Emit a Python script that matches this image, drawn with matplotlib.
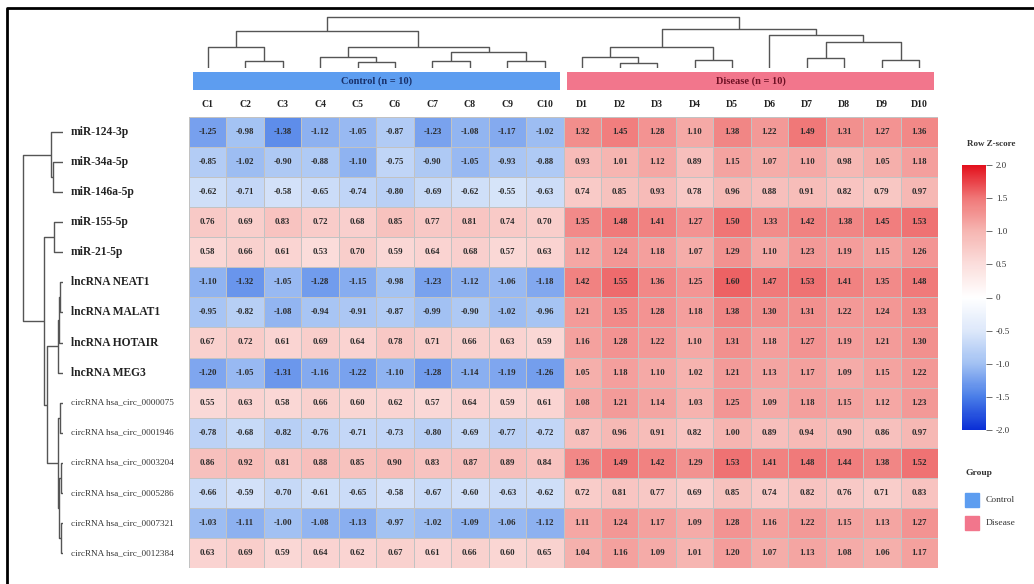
import numpy as np
import matplotlib
matplotlib.use("Agg")
import matplotlib.pyplot as plt
from matplotlib.colors import LinearSegmentedColormap
from matplotlib.patches import Rectangle
from matplotlib.lines import Line2D
from matplotlib.transforms import blended_transform_factory

plt.rcParams['font.family'] = ['Liberation Serif', 'DejaVu Serif']

# ---------------- data ----------------
row_labels = ["miR-124-3p", "miR-34a-5p", "miR-146a-5p", "miR-155-5p", "miR-21-5p",
              "lncRNA NEAT1", "lncRNA MALAT1", "lncRNA HOTAIR", "lncRNA MEG3",
              "circRNA hsa_circ_0000075", "circRNA hsa_circ_0001946", "circRNA hsa_circ_0003204",
              "circRNA hsa_circ_0005286", "circRNA hsa_circ_0007321", "circRNA hsa_circ_0012384"]
col_labels = ["C1", "C2", "C3", "C4", "C5", "C6", "C7", "C8", "C9", "C10",
              "D1", "D2", "D3", "D4", "D5", "D6", "D7", "D8", "D9", "D10"]
group_names = ["Control (n = 10)", "Disease (n = 10)"]
group_legend = ["Control", "Disease"]
group_sizes = [10, 10]

control_values = [
    [-1.25, -0.98, -1.38, -1.12, -1.05, -0.87, -1.23, -1.08, -1.17, -1.02],
    [-0.85, -1.02, -0.90, -0.88, -1.10, -0.75, -0.90, -1.05, -0.93, -0.88],
    [-0.62, -0.71, -0.58, -0.65, -0.74, -0.80, -0.69, -0.62, -0.55, -0.63],
    [0.76, 0.69, 0.83, 0.72, 0.68, 0.85, 0.77, 0.81, 0.74, 0.70],
    [0.58, 0.66, 0.61, 0.53, 0.70, 0.59, 0.64, 0.68, 0.57, 0.63],
    [-1.10, -1.32, -1.05, -1.28, -1.15, -0.98, -1.23, -1.12, -1.06, -1.18],
    [-0.95, -0.82, -1.08, -0.94, -0.91, -0.87, -0.99, -0.90, -1.02, -0.96],
    [0.67, 0.72, 0.61, 0.69, 0.64, 0.78, 0.71, 0.66, 0.63, 0.59],
    [-1.20, -1.05, -1.31, -1.16, -1.22, -1.10, -1.28, -1.14, -1.19, -1.26],
    [0.55, 0.63, 0.58, 0.66, 0.60, 0.62, 0.57, 0.64, 0.59, 0.61],
    [-0.78, -0.68, -0.82, -0.76, -0.71, -0.73, -0.80, -0.69, -0.77, -0.72],
    [0.86, 0.92, 0.81, 0.88, 0.85, 0.90, 0.83, 0.87, 0.89, 0.84],
    [-0.66, -0.59, -0.70, -0.61, -0.65, -0.58, -0.67, -0.60, -0.63, -0.62],
    [-1.03, -1.11, -1.00, -1.08, -1.13, -0.97, -1.02, -1.09, -1.06, -1.12],
    [0.63, 0.69, 0.59, 0.64, 0.62, 0.67, 0.61, 0.66, 0.60, 0.65],
]
disease_values = [
    [1.32, 1.45, 1.28, 1.10, 1.38, 1.22, 1.49, 1.31, 1.27, 1.36],
    [0.93, 1.01, 1.12, 0.89, 1.15, 1.07, 1.10, 0.98, 1.05, 1.18],
    [0.74, 0.85, 0.93, 0.78, 0.96, 0.88, 0.91, 0.82, 0.79, 0.97],
    [1.35, 1.48, 1.41, 1.27, 1.50, 1.33, 1.42, 1.38, 1.45, 1.53],
    [1.12, 1.24, 1.18, 1.07, 1.29, 1.10, 1.23, 1.19, 1.15, 1.26],
    [1.42, 1.55, 1.36, 1.25, 1.60, 1.47, 1.53, 1.41, 1.35, 1.48],
    [1.21, 1.35, 1.28, 1.18, 1.38, 1.30, 1.31, 1.22, 1.24, 1.33],
    [1.16, 1.28, 1.22, 1.10, 1.31, 1.18, 1.27, 1.19, 1.21, 1.30],
    [1.05, 1.18, 1.10, 1.02, 1.21, 1.13, 1.17, 1.09, 1.15, 1.22],
    [1.08, 1.21, 1.14, 1.03, 1.25, 1.09, 1.18, 1.15, 1.12, 1.23],
    [0.87, 0.96, 0.91, 0.82, 1.00, 0.89, 0.94, 0.90, 0.86, 0.97],
    [1.36, 1.49, 1.42, 1.29, 1.53, 1.41, 1.48, 1.44, 1.38, 1.52],
    [0.72, 0.81, 0.77, 0.69, 0.85, 0.74, 0.82, 0.76, 0.71, 0.83],
    [1.11, 1.24, 1.17, 1.09, 1.28, 1.16, 1.22, 1.15, 1.13, 1.27],
    [1.04, 1.16, 1.09, 1.01, 1.20, 1.07, 1.13, 1.08, 1.06, 1.17],
]

# dendrogram merges: (child_a, child_b, height); leaf ids < n, clusters n+k
col_merges = [(1, 2, 7), (0, 20, 21), (4, 5, 6), (3, 22, 11), (6, 7, 7), (8, 9, 7),
              (24, 25, 16), (23, 26, 21), (21, 27, 37),
              (11, 12, 5), (10, 29, 11), (13, 14, 8), (30, 31, 21), (16, 17, 10),
              (18, 19, 8), (33, 34, 26), (15, 35, 33), (32, 36, 39), (28, 37, 51)]
row_merges = [(1, 2, 10), (0, 15, 12), (3, 4, 9), (5, 6, 3), (18, 7, 4), (19, 8, 5),
              (9, 10, 3), (11, 12, 2), (13, 14, 2), (22, 23, 4), (21, 24, 5),
              (20, 25, 16), (17, 26, 19), (16, 27, 39)]

ticks_cb = [2.0, 1.5, 1.0, 0.5, 0, -0.5, -1.0, -1.5, -2.0]

# ---------------- figure ----------------
W, H = 1034, 584
fig = plt.figure(figsize=(W / 100, H / 100), dpi=100)
fig.patch.set_facecolor('white')


def px_axes(x0, y0, x1, y1):
    return fig.add_axes([x0 / W, 1 - y1 / H, (x1 - x0) / W, (y1 - y0) / H])


cmap = LinearSegmentedColormap.from_list("zs", [
    (0.0, '#0a2ed6'), (0.125, '#4a7ee8'), (0.25, '#a2c1f3'), (0.375, '#dde8fa'),
    (0.5, '#ffffff'), (0.625, '#fbdedc'), (0.75, '#f6b6b2'), (0.875, '#f07878'),
    (1.0, '#e3101c')])

data = np.hstack([np.array(control_values), np.array(disease_values)])
nr, nc = data.shape

# heatmap
hx0, hy0, hx1, hy1 = 189, 117, 938, 568
ax = px_axes(hx0, hy0, hx1, hy1)
mesh = ax.pcolormesh(data, cmap=cmap, vmin=-2, vmax=2, edgecolors='#c2c2c2', linewidth=0.6)
ax.set_xlim(0, nc)
ax.set_ylim(nr, 0)
for i in range(nr):
    for j in range(nc):
        ax.text(j + 0.5, i + 0.5, f"{data[i, j]:.2f}", ha='center', va='center',
                fontsize=6.3, fontweight='bold', color='#2a2a2a')
ax.xaxis.tick_top()
ax.set_xticks(np.arange(nc) + 0.5)
ax.set_xticklabels(col_labels, fontsize=7, fontweight='bold', color='#222222')
ax.tick_params(axis='x', length=0, pad=6)
ax.set_yticks([])
for s in ax.spines.values():
    s.set_visible(False)

# row labels (left aligned)
tr = blended_transform_factory(fig.transFigure, ax.transData)
for i, lab in enumerate(row_labels):
    circ = lab.startswith("circRNA")
    ax.text(71 / W, i + 0.5, lab, transform=tr, ha='left', va='center',
            fontsize=6.6 if circ else 8.3, fontweight='normal' if circ else 'bold',
            color='#333333' if circ else '#222222', clip_on=False)


def dendro(merges, n):
    pos = {i: i + 0.5 for i in range(n)}
    hts = {i: 0.0 for i in range(n)}
    segs = []
    for k, (a, b, h) in enumerate(merges):
        segs.append(([pos[a], pos[a], pos[b], pos[b]], [hts[a], h, h, hts[b]]))
        pos[n + k] = (pos[a] + pos[b]) / 2
        hts[n + k] = h
    return segs


# column dendrogram
axd = px_axes(hx0, 12, hx1, 68)
for xs, ys in dendro(col_merges, nc):
    axd.plot(xs, ys, color='#555555', lw=1.0, solid_capstyle='butt')
axd.set_xlim(0, nc)
axd.set_ylim(0, 56)
axd.axis('off')

# row dendrogram
axr = px_axes(20, hy0, 63, hy1)
for xs, ys in dendro(row_merges, nr):
    axr.plot(ys, xs, color='#555555', lw=1.0, solid_capstyle='butt')
axr.set_ylim(nr, 0)
axr.set_xlim(39 * 43 / 40, 0)
axr.axis('off')

# group bars
axg = px_axes(hx0, 72, hx1, 90)
starts = np.concatenate([[0], np.cumsum(group_sizes)[:-1]])
gcolors = ['#5d9df0', '#f2768c']
tcolors = ['#18306a', '#6e1024']
for s, w, name, c, tc in zip(starts, group_sizes, group_names, gcolors, tcolors):
    axg.barh(0, w - 0.2, left=s + 0.1, height=1, color=c, edgecolor='none')
    axg.text(s + w / 2, 0, name, ha='center', va='center', fontsize=7.5,
             fontweight='bold', color=tc)
axg.set_xlim(0, nc)
axg.set_ylim(-0.5, 0.5)
axg.axis('off')

# colorbar
cax = px_axes(962, 165, 986, 430)
cb = fig.colorbar(mesh, cax=cax, ticks=ticks_cb)
cb.outline.set_visible(False)
cb.ax.set_yticklabels(['0' if t == 0 else f"{t:.1f}" for t in ticks_cb])
cb.ax.tick_params(labelsize=6.5, length=4, width=0.6, color='#555555', pad=3,
                  labelcolor='#333333')
fig.text(991 / W, 1 - 144 / H, "Row Z-score", ha='center', va='center', fontsize=6.5,
         fontweight='bold', color='#333333')

# group legend
fig.text(965 / W, 1 - 473 / H, "Group", ha='left', va='center', fontsize=6.8,
         fontweight='bold', color='#333333')
for k, (lab, c) in enumerate(zip(group_legend, gcolors)):
    y0 = 493 + k * 23
    fig.patches.append(Rectangle((965 / W, 1 - (y0 + 14) / H), 14 / W, 14 / H,
                                 transform=fig.transFigure, color=c, figure=fig))
    fig.text(986 / W, 1 - (y0 + 7) / H, lab, ha='left', va='center', fontsize=6.8,
             color='#333333')

# frame
fig.add_artist(Line2D([7 / W, 7 / W, 1.0], [0.0, 1 - 8 / H, 1 - 8 / H],
                      transform=fig.transFigure, color='black', lw=2))

fig.savefig("out.png", dpi=100, facecolor='white')
